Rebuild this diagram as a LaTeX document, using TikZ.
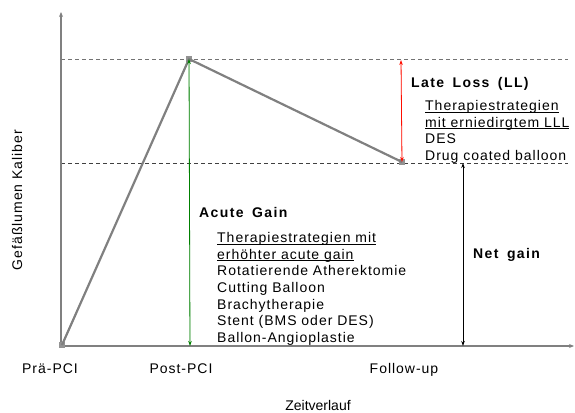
\documentclass[tikz,border=0pt]{standalone}
\usepackage{fontspec}
\setmainfont{Liberation Sans}
\newfontfamily\spf[LetterSpace=7]{Liberation Sans}
\newfontfamily\spb[LetterSpace=10,WordSpace=1.6]{Liberation Sans}
\newlength\myulw
\newcommand\myul[1]{\settowidth{\myulw}{#1}\rlap{\rule[-2.2pt]{\myulw}{0.8pt}}#1}
\usetikzlibrary{arrows.meta}
\begin{document}
\begin{tikzpicture}[x=1pt,y=-1pt,
  txt/.style={inner sep=0pt,anchor=north west,font=\spf\fontsize{14}{16.7}\selectfont,align=left},
  head/.style={inner sep=0pt,anchor=base west,font=\spb\fontsize{14}{16}\selectfont\bfseries},
  lbl/.style={inner sep=0pt,anchor=base,font=\spf\fontsize{14}{16}\selectfont},
  marker/.style={fill=gray!85,minimum size=6pt,inner sep=0pt},
  axis/.style={draw=gray,line width=1.4pt,-{Stealth[length=5pt,width=4pt]}},
  curve/.style={draw=gray,line width=2.2pt},
  guide/.style={draw=gray!90!black,line width=0.9pt,dash pattern=on 4pt off 3pt},
  gap/.style={line width=0.8pt,{Stealth[length=5pt,width=3.5pt]}-{Stealth[length=5pt,width=3.5pt]}}]
\useasboundingbox (0,0) rectangle (575,412);
\coordinate (O) at (61,346);
\coordinate (Ytop) at (61,12);
\coordinate (Xend) at (574,346);
\coordinate (HiL) at (61,59);
\coordinate (HiR) at (568,59);
\coordinate (LoL) at (61,163);
\coordinate (LoR) at (568,163);
\coordinate (NetB) at (463,346);
\coordinate (NetT) at (463,163);
\coordinate (GreenB) at (190,346);
% guides
\draw[guide] (HiL) -- (HiR);
\draw[guide,draw=black!75] (LoL) -- (LoR);
% axes
\draw[axis] (O) -- (Ytop);
\draw[axis] (O) -- (Xend);
% points
\node[marker] (pre) at (62,345) {};
\node[marker] (post) at (189,59) {};
\node[marker] (fu) at (402,162) {};
\draw[curve] (pre.center) -- (post.center) -- (fu.center);
% arrows
\draw[gap,draw=green!50!black,fill=green!50!black] (post.center) -- (GreenB);
\draw[gap,draw=red!90!orange,fill=red!90!orange] (401,60) -- (fu.center);
\draw[gap,draw=black] (NetT) -- (NetB);
% texts
\node[head] (ll) at (411,87) {Late Loss (LL)};
\node[txt] (lltx) at (425,100) {\myul{Therapiestrategien}\\\myul{mit erniedirgtem LLL}\\DES\\Drug coated balloon};
\node[head] (ag) at (199,217) {Acute Gain};
\node[txt] (agtx) at (217,232) {\myul{Therapiestrategien mit}\\\myul{erhöhter acute gain}\\Rotatierende Atherektomie\\Cutting Balloon\\Brachytherapie\\Stent (BMS oder DES)\\Ballon-Angioplastie};
\node[head] (ng) at (473,258) {Net gain};
\node[lbl] (l1) at (50,373) {Prä-PCI};
\node[lbl] (l2) at (181,373) {Post-PCI};
\node[lbl] (l3) at (404,373) {Follow-up};
\node[lbl,font=\fontsize{14}{16}\selectfont] (xl) at (318,410) {Zeitverlauf};
\node[lbl,rotate=90] (yl) at (22,200) {Gefäßlumen Kaliber};
\end{tikzpicture}
\end{document}
